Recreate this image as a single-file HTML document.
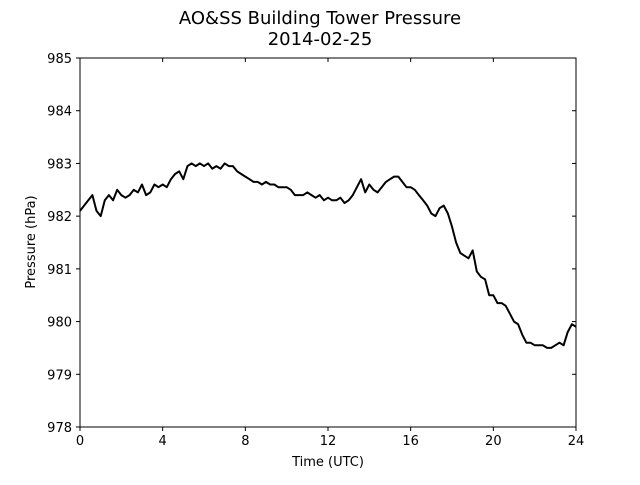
<!DOCTYPE html>
<html><head><meta charset="utf-8"><style>
body{margin:0;background:#fff;}
svg text{font-family:"DejaVu Sans","Liberation Sans",sans-serif;fill:#000;}
</style></head><body>
<svg id="chart" width="640" height="480" xmlns="http://www.w3.org/2000/svg">
<text x="320" y="24" font-size="18" text-anchor="middle">AO&amp;SS Building Tower Pressure</text>
<text x="320" y="45" font-size="18" text-anchor="middle">2014-02-25</text>
<g id="ticks"></g>
<path id="series" fill="none" stroke="#000" stroke-width="2" stroke-linejoin="round"></path>
<rect x="80" y="58" width="496" height="369" fill="none" stroke="#000" stroke-width="1"/>
<text x="328" y="466" font-size="13" text-anchor="middle">Time (UTC)</text>
<text transform="translate(35,242) rotate(-90)" font-size="13" text-anchor="middle">Pressure (hPa)</text>
</svg>
<script>
const xTicks=[0,4,8,12,16,20,24];
const yTicks=[978,979,980,981,982,983,984,985];
const hours=[];for(let i=0;i<=120;i++)hours.push(i*0.2);
const pressure=[982.1,982.2,982.3,982.4,982.1,982.0,982.3,982.4,982.3,982.5,982.4,982.35,982.4,982.5,982.45,982.6,982.4,982.45,982.6,982.55,982.6,982.55,982.7,982.8,982.85,982.7,982.95,983.0,982.95,983.0,982.95,983.0,982.9,982.95,982.9,983.0,982.95,982.95,982.85,982.8,982.75,982.7,982.65,982.65,982.6,982.65,982.6,982.6,982.55,982.55,982.55,982.5,982.4,982.4,982.4,982.45,982.4,982.35,982.4,982.3,982.35,982.3,982.3,982.35,982.25,982.3,982.4,982.55,982.7,982.45,982.6,982.5,982.45,982.55,982.65,982.7,982.75,982.75,982.65,982.55,982.55,982.5,982.4,982.3,982.2,982.05,982.0,982.15,982.2,982.05,981.8,981.5,981.3,981.25,981.2,981.35,980.95,980.85,980.8,980.5,980.5,980.35,980.35,980.3,980.15,980.0,979.95,979.75,979.6,979.6,979.55,979.55,979.55,979.5,979.5,979.55,979.6,979.55,979.8,979.95,979.9];
const X=h=>80+h/24*496, Y=p=>427-(p-978)/7*369;
const NS="http://www.w3.org/2000/svg";
const g=document.getElementById('ticks');
function mk(tag,attrs){const e=document.createElementNS(NS,tag);for(const k in attrs)e.setAttribute(k,attrs[k]);g.appendChild(e);return e;}
xTicks.forEach(t=>{const x=X(t);
 const a=mk('line',{x1:x,x2:x,y1:427,y2:431,stroke:'#000'});
 
 
 const b=mk('line',{x1:x,x2:x,y1:58,y2:62,stroke:'#000'});
 
 
 const l=mk('text',{x:x,y:445,'font-size':13,'text-anchor':'middle'});l.textContent=t;
 
 
});
yTicks.forEach(t=>{const y=Y(t);
 const a=mk('line',{x1:76,x2:80,y1:y,y2:y,stroke:'#000'});
 
 
 const b=mk('line',{x1:572,x2:576,y1:y,y2:y,stroke:'#000'});
 
 
 const l=mk('text',{x:72,y:y+5,'font-size':13,'text-anchor':'end'});l.textContent=t;
 
 
});
document.getElementById('series').setAttribute('d',pressure.map((p,i)=>(i?'L':'M')+X(hours[i]).toFixed(1)+','+Y(p).toFixed(1)).join(''));
</script>
</body></html>
